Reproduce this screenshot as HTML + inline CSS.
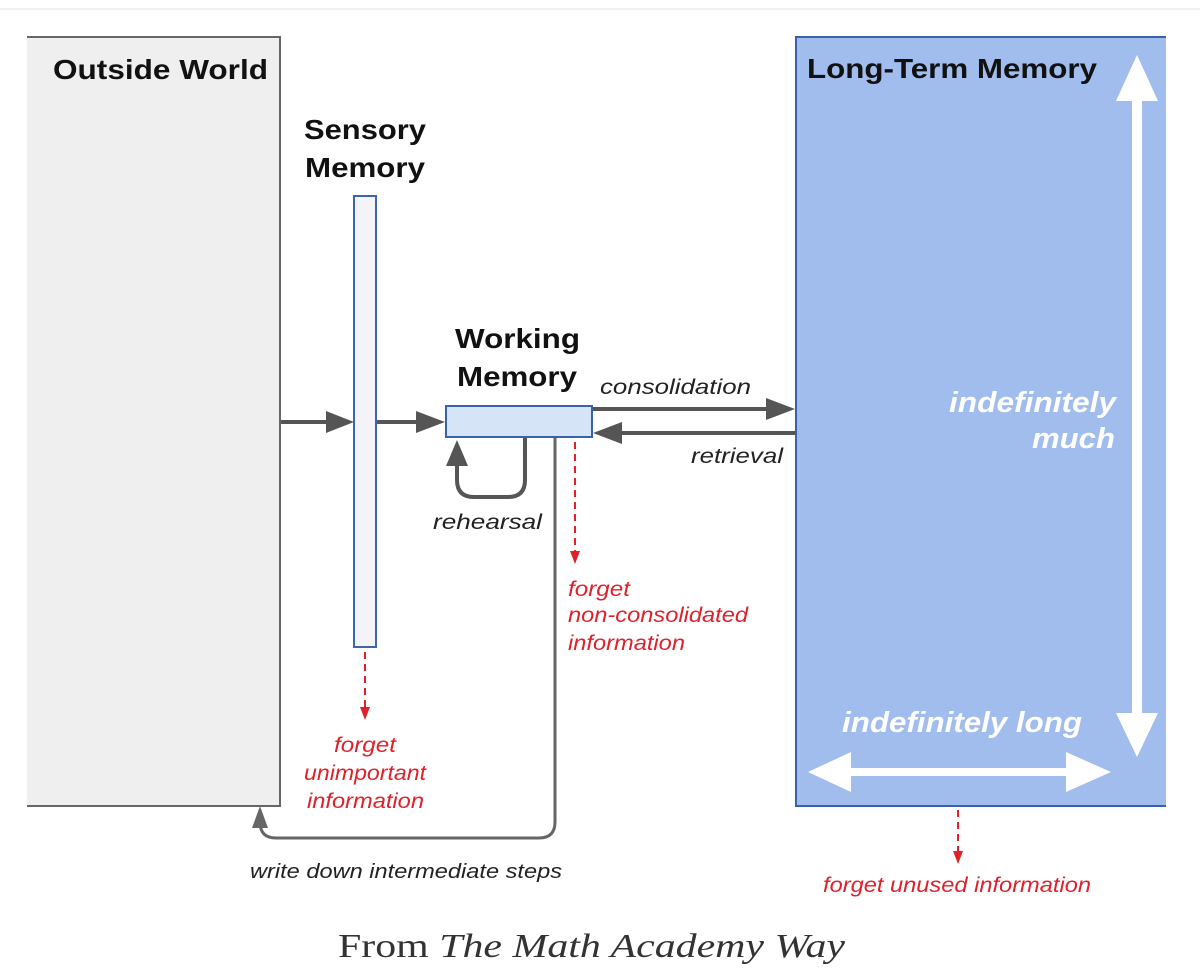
<!DOCTYPE html>
<html><head><meta charset="utf-8"><style>
html,body{margin:0;padding:0;background:#fff;width:1200px;height:980px;overflow:hidden}
svg{display:block}
svg text{font-family:"Liberation Sans",Arial,sans-serif}
svg text.serif{font-family:"Liberation Serif",serif}
</style></head><body>
<svg width="1200" height="980" viewBox="0 0 1200 980" xmlns="http://www.w3.org/2000/svg">
<line x1="0" y1="9" x2="1200" y2="9" stroke="#f2f2f2" stroke-width="2"/>
<!-- Outside world -->
<rect x="27" y="37" width="253" height="769" fill="#efefef"/>
<path d="M27,37 H280 V806 H27" fill="none" stroke="#666" stroke-width="2"/>
<text x="53" y="79" font-size="28" font-weight="bold" fill="#111" textLength="215" lengthAdjust="spacingAndGlyphs">Outside World</text>
<!-- Sensory -->
<text x="304" y="139" font-size="28" font-weight="bold" fill="#111" textLength="122" lengthAdjust="spacingAndGlyphs">Sensory</text>
<text x="305" y="177" font-size="28" font-weight="bold" fill="#111" textLength="120" lengthAdjust="spacingAndGlyphs">Memory</text>
<rect x="354" y="196" width="22" height="451" fill="#f3f3f8" stroke="#3c66b0" stroke-width="2"/>
<g stroke="#555" stroke-width="4" fill="#555">
<line x1="281" y1="422" x2="330" y2="422"/>
<line x1="377" y1="422" x2="420" y2="422"/>
<line x1="593" y1="409" x2="770" y2="409"/>
<line x1="795" y1="433" x2="618" y2="433"/>
</g>
<g fill="#555">
<path d="M326,411 L354,422 L326,433Z"/>
<path d="M416,411 L445,422 L416,433Z"/>
<path d="M766,398 L795,409 L766,420Z"/>
<path d="M622,422 L593,433 L622,444Z"/>
</g>
<!-- Working memory -->
<text x="455" y="348" font-size="28" font-weight="bold" fill="#111" textLength="125" lengthAdjust="spacingAndGlyphs">Working</text>
<text x="457" y="386" font-size="28" font-weight="bold" fill="#111" textLength="120" lengthAdjust="spacingAndGlyphs">Memory</text>
<path d="M525,438 V480 Q525,497 508,497 H474 Q457,497 457,480 V462" fill="none" stroke="#555" stroke-width="4"/>
<path d="M446,466 L457,440 L468,466Z" fill="#555"/>
<path d="M555,438 V822 Q555,838 539,838 H276 Q260,838 260,822 V826" fill="none" stroke="#666" stroke-width="3"/>
<path d="M252,828 L260,806 L268,828Z" fill="#666"/>
<rect x="446" y="406" width="146" height="31" fill="#d6e4f8" stroke="#3a62a8" stroke-width="2"/>
<text x="600" y="394" font-size="21" font-style="italic" fill="#222" textLength="151" lengthAdjust="spacingAndGlyphs">consolidation</text>
<text x="691" y="463" font-size="21" font-style="italic" fill="#222" textLength="92" lengthAdjust="spacingAndGlyphs">retrieval</text>
<text x="433" y="529" font-size="21" font-style="italic" fill="#222" textLength="109" lengthAdjust="spacingAndGlyphs">rehearsal</text>
<text x="250" y="878" font-size="20" font-style="italic" fill="#222" textLength="312" lengthAdjust="spacingAndGlyphs">write down intermediate steps</text>
<g stroke="#e0202a" stroke-width="2" stroke-dasharray="7,5">
<line x1="575" y1="442" x2="575" y2="553"/>
<line x1="365" y1="652" x2="365" y2="708"/>
<line x1="958" y1="810" x2="958" y2="852"/>
</g>
<g fill="#e0202a">
<path d="M570,551 L575,564 L580,551Z"/>
<path d="M360,707 L365,720 L370,707Z"/>
<path d="M953,851 L958,864 L963,851Z"/>
</g>
<g font-size="21" font-style="italic" fill="#e0202a">
<text x="568" y="596" textLength="62" lengthAdjust="spacingAndGlyphs">forget</text>
<text x="568" y="622" textLength="180" lengthAdjust="spacingAndGlyphs">non-consolidated</text>
<text x="568" y="650" textLength="117" lengthAdjust="spacingAndGlyphs">information</text>
<text x="334" y="752" textLength="62" lengthAdjust="spacingAndGlyphs">forget</text>
<text x="304" y="780" textLength="122" lengthAdjust="spacingAndGlyphs">unimportant</text>
<text x="307" y="808" textLength="117" lengthAdjust="spacingAndGlyphs">information</text>
<text x="823" y="892" textLength="268" lengthAdjust="spacingAndGlyphs">forget unused information</text>
</g>
<!-- LTM -->
<rect x="796" y="37" width="370" height="769" fill="#a0bdee"/>
<path d="M1166,37 H796 V806 H1166" fill="none" stroke="#3a62a8" stroke-width="2"/>
<text x="807" y="78" font-size="28" font-weight="bold" fill="#111" textLength="290" lengthAdjust="spacingAndGlyphs">Long-Term Memory</text>
<g fill="#fff">
<rect x="1132" y="95" width="10" height="620"/>
<path d="M1116,101 L1137,55 L1158,101Z"/>
<path d="M1116,713 L1137,757 L1158,713Z"/>
<rect x="850" y="768" width="220" height="8"/>
<path d="M851,752 L808,772 L851,792Z"/>
<path d="M1066,752 L1111,772 L1066,792Z"/>
</g>
<g font-size="29" font-weight="bold" font-style="italic" fill="#fff">
<text x="949" y="412" textLength="167" lengthAdjust="spacingAndGlyphs">indefinitely</text>
<text x="1032" y="448" textLength="83" lengthAdjust="spacingAndGlyphs">much</text>
<text x="842" y="732" textLength="240" lengthAdjust="spacingAndGlyphs">indefinitely long</text>
</g>
<text class="serif" x="338" y="957" font-size="34" fill="#333" textLength="507" lengthAdjust="spacingAndGlyphs">From <tspan font-style="italic">The Math Academy Way</tspan></text>
</svg>
</body></html>
